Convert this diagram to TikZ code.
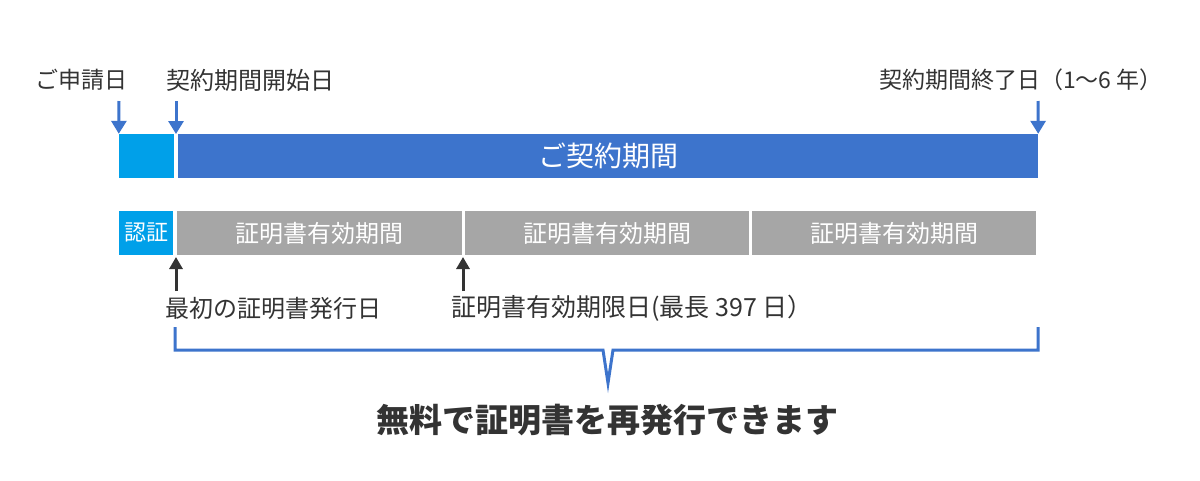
\documentclass[tikz,border=0pt]{standalone}
\usepackage{fontspec}
\setmainfont{Noto Sans CJK JP}
\usetikzlibrary{arrows.meta}

\definecolor{applyblue}{RGB}{0,160,233}
\definecolor{termblue}{RGB}{61,116,204}
\definecolor{certgray}{RGB}{166,166,166}
\definecolor{textdark}{RGB}{51,51,51}

\tikzset{
  bar/.style={draw=none, minimum height=44pt, inner sep=0pt, text=white},
  datelabel/.style={text=textdark, inner sep=0pt, font=\fontsize{24}{27}\selectfont},
  bluearrow/.style={-{Triangle[width=15pt,length=13pt]}, line width=3pt, termblue},
  darkarrow/.style={-{Triangle[width=13pt,length=12pt]}, line width=3pt, textdark},
}

\begin{document}
\begin{tikzpicture}[x={(1pt,0)}, y={(0,-1pt)}]

    \useasboundingbox[fill=white] (0,0) rectangle (1200,480);

    %% Contract row

    % Bars
    \node[bar, fill=applyblue, minimum width=55pt] (apply) at (146.5,156) {};
    \node[bar, fill=termblue, minimum width=860pt, font=\fontsize{28}{32}\selectfont] (term) at (608,156) {ご契約期間};

    % Dates
    \node[datelabel, anchor=east, font=\fontsize{23}{26}\selectfont] (applydate) at (128,80) {ご申請日};
    \node[datelabel, anchor=west] (startdate) at (166,80) {契約期間開始日};
    \node[datelabel, anchor=east, font=\fontsize{23}{26}\selectfont] (enddate) at (1163,80) {契約期間終了日（1～6 年）};

    \coordinate (applytop) at (119,101);
    \coordinate (starttop) at (176,101);
    \coordinate (startpt) at (176,134);
    \coordinate (endtop) at (1038,101);
    \draw[bluearrow] (applytop) -- (apply.north west);
    \draw[bluearrow] (starttop) -- (startpt);
    \draw[bluearrow] (endtop) -- (term.north east);

    %% Certificate row

    % Bars
    \node[bar, fill=applyblue, minimum width=54pt, font=\fontsize{22}{26}\selectfont] (auth) at (146,233) {認証};
    \node[bar, fill=certgray, minimum width=285pt, font=\fontsize{24}{27}\selectfont] (certa) at (319.5,233) {証明書有効期間};
    \node[bar, fill=certgray, minimum width=284pt, font=\fontsize{24}{27}\selectfont] (certb) at (607,233) {証明書有効期間};
    \node[bar, fill=certgray, minimum width=284pt, font=\fontsize{24}{27}\selectfont] (certc) at (894,233) {証明書有効期間};

    % Dates
    \node[datelabel, anchor=west] (issuedate) at (165,308) {最初の証明書発行日};
    \node[datelabel, anchor=west, font=\fontsize{25}{28}\selectfont] (expirydate) at (451,308) {証明書有効期限日(最長 397 日）};

    \coordinate (issuebot) at (176,291);
    \coordinate (issuept) at (176,257);
    \coordinate (expirybot) at (463,291);
    \coordinate (expirypt) at (463,257);
    \draw[darkarrow] (issuebot) -- (issuept);
    \draw[darkarrow] (expirybot) -- (expirypt);

    %% Brace

    \coordinate (braceleft) at (175,327);
    \coordinate (braceright) at (1038,327);
    \coordinate (bracetip) at (608,383);
    \draw[termblue, line width=3pt, line join=miter]
        (braceleft) -- (175,350) -- (603,350) -- (bracetip) -- (613,350) -- (1038,350) -- (braceright);

    \node[text=textdark, inner sep=0pt, font=\fontsize{33}{36}\selectfont\bfseries] (free) at (607,420) {無料で証明書を再発行できます};

\end{tikzpicture}
\end{document}
